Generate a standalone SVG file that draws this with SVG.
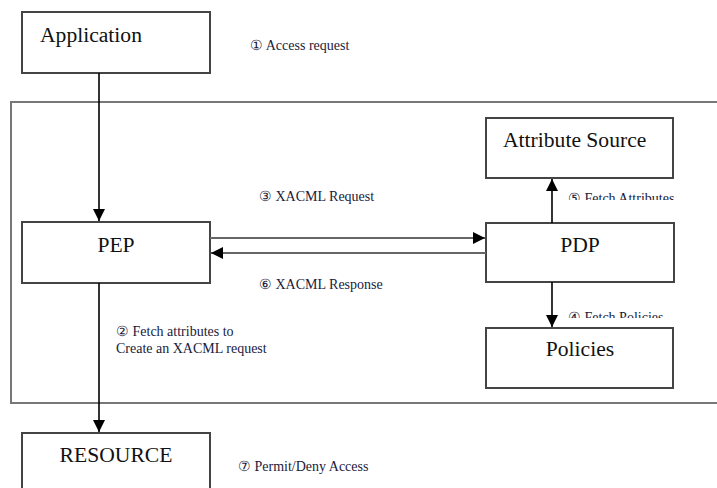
<svg xmlns="http://www.w3.org/2000/svg" width="717" height="488" viewBox="0 0 717 488">
  <style>
    .box { fill: #ffffff; stroke: #444; stroke-width: 2; }
    .frame { fill: none; stroke: #777; stroke-width: 2; }
    .title { font-family: 'Liberation Serif', 'DejaVu Serif', serif; font-size: 21.6px; fill: #111; }
    .note { font-family: 'Liberation Serif', 'DejaVu Serif', serif; font-size: 14px; fill: #1a1a3a; }
    .flow { stroke: #000; stroke-width: 1.6; fill: none; }
    .msg { stroke: #666; stroke-width: 2.2; fill: none; }
  </style>
  <defs>
    <marker id="arrowBig" viewBox="0 0 10 10" refX="10" refY="5" markerWidth="12" markerHeight="12" markerUnits="userSpaceOnUse" orient="auto">
      <path d="M0,0 L10,5 L0,10 z" fill="#000"/>
    </marker>
    <clipPath id="clipAttr"><rect x="560" y="180" width="157" height="20"/></clipPath>
    <clipPath id="clipPol"><rect x="560" y="300" width="157" height="18"/></clipPath>
  </defs>

  <!-- access control domain frame (open on the right) -->
  <path class="frame" d="M717,102 H11 V403 H717"/>

  <g id="application">
    <rect class="box" x="22" y="12" width="188" height="61"/>
    <text class="title" x="40" y="42">Application</text>
  </g>

  <g id="pep">
    <rect class="box" x="22" y="222" width="188" height="61"/>
    <text class="title" x="116" y="252" text-anchor="middle">PEP</text>
  </g>

  <g id="pdp">
    <rect class="box" x="486" y="223" width="188" height="59"/>
    <text class="title" x="580" y="252" text-anchor="middle">PDP</text>
  </g>

  <g id="attribute-source">
    <rect class="box" x="486" y="118" width="187" height="60"/>
    <text class="title" x="503" y="147">Attribute Source</text>
  </g>

  <g id="policies">
    <rect class="box" x="486" y="328" width="187" height="60"/>
    <text class="title" x="580" y="356" text-anchor="middle">Policies</text>
  </g>

  <g id="resource">
    <rect class="box" x="22" y="433" width="188" height="70"/>
    <text class="title" x="116" y="462" text-anchor="middle">RESOURCE</text>
  </g>

  <g id="connectors">
    <line class="flow" x1="99" y1="73" x2="99" y2="221" marker-end="url(#arrowBig)"/>
    <line class="flow" x1="99" y1="283" x2="99" y2="432" marker-end="url(#arrowBig)"/>
    <line class="msg" x1="210" y1="238" x2="485" y2="238" marker-end="url(#arrowBig)"/>
    <line class="msg" x1="486" y1="253" x2="211" y2="253" marker-end="url(#arrowBig)"/>
    <line class="flow" x1="552" y1="223" x2="552" y2="179" marker-end="url(#arrowBig)"/>
    <line class="flow" x1="552" y1="282" x2="552" y2="327" marker-end="url(#arrowBig)"/>
  </g>

  <g id="labels">
    <text class="note" x="250" y="50">① Access request</text>
    <text class="note" x="259" y="201">③ XACML Request</text>
    <text class="note" x="259" y="289">⑥ XACML Response</text>
    <text class="note" x="116" y="336">② Fetch attributes to</text>
    <text class="note" x="116" y="353">Create an XACML request</text>
    <text class="note" x="238" y="471">⑦ Permit/Deny Access</text>
    <text class="note" x="568" y="203" clip-path="url(#clipAttr)">⑤ Fetch Attributes</text>
    <text class="note" x="568" y="322" clip-path="url(#clipPol)">④ Fetch Policies</text>
  </g>
</svg>
